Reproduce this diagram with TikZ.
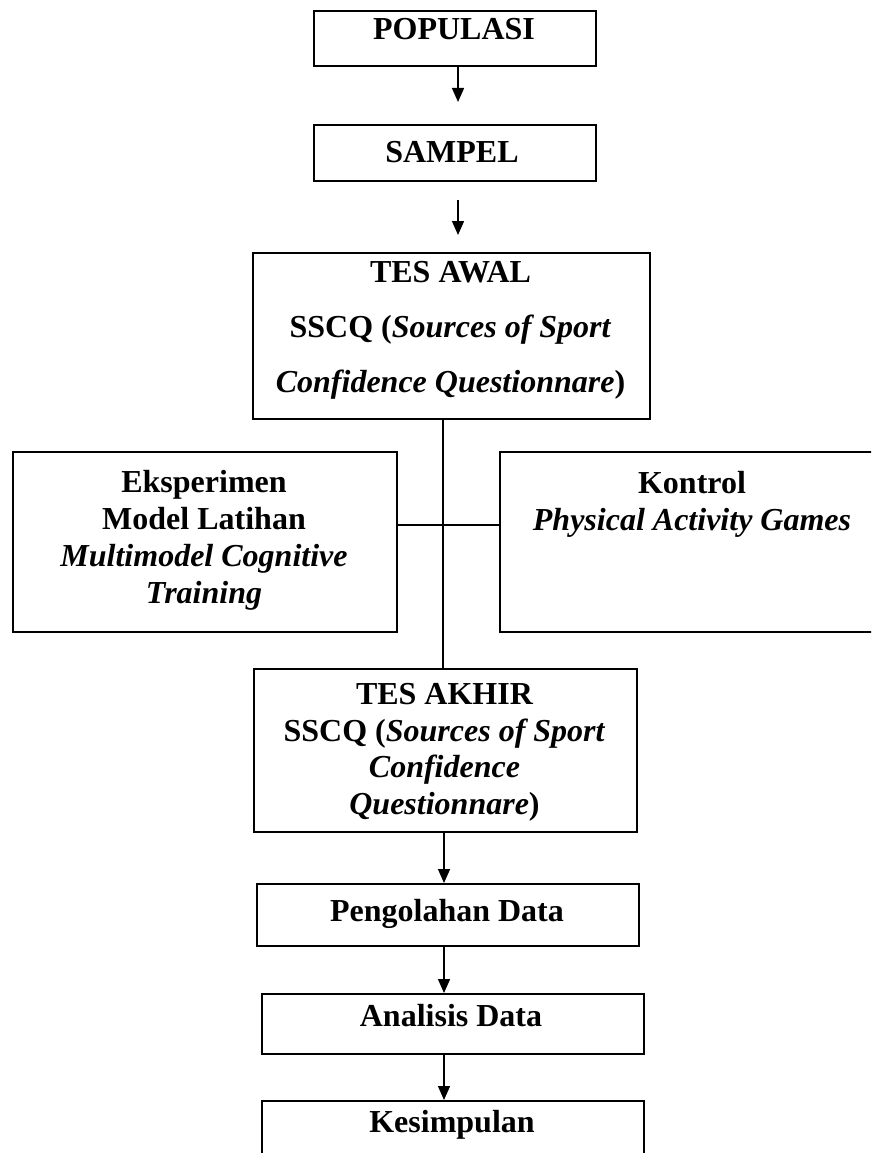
\documentclass[tikz,border=0pt]{standalone}
\usepackage{fontspec}
\setmainfont{Liberation Serif}
\usetikzlibrary{arrows.meta,calc}
\begin{document}
\begin{tikzpicture}[x=1pt,y=-1pt,
  box/.style={draw, line width=2pt, rectangle, inner sep=0pt, anchor=north west},
  txt/.style={font=\fontsize{32}{37}\selectfont\bfseries, align=center, anchor=base, inner sep=0pt},
  link/.style={line width=1.4pt},
  flow/.style={line width=1.4pt, -{Triangle[length=14pt,width=12pt]}}]
\useasboundingbox (0,0) rectangle (871,1153);
\clip (0,0) rectangle (871,1153);
% boxes
\node[box, minimum width=282pt, minimum height=55pt] (pop) at (313,10) {};
\node[box, minimum width=282pt, minimum height=56pt] (samp) at (313,124) {};
\node[box, minimum width=397pt, minimum height=166pt] (awal) at (252,252) {};
\node[box, minimum width=384pt, minimum height=180pt] (eks) at (12,451) {};
\node[box, minimum width=390pt, minimum height=180pt] (kon) at (499,451) {};
\node[box, minimum width=383pt, minimum height=163pt] (akhir) at (253,668) {};
\node[box, minimum width=382pt, minimum height=62pt] (peng) at (256,883) {};
\node[box, minimum width=382pt, minimum height=60pt] (anal) at (261,993) {};
\node[box, minimum width=382pt, minimum height=80pt] (kes) at (261,1100) {};
% texts (anchor = baseline of the last line)
\node[txt] (popt) at (454,40) {POPULASI};
\node[txt] (sampt) at (452,162) {SAMPEL};
\node[txt, font=\fontsize{32}{55}\selectfont\bfseries] (awalt) at (450.5,392)
  {TES AWAL\\SSCQ (\textit{Sources of Sport}\\\textit{Confidence Questionnare})};
\node[txt] (ekst) at (204,603)
  {Eksperimen\\Model Latihan\\\textit{Multimodel Cognitive}\\\textit{Training}};
\node[txt] (kont) at (692,530) {Kontrol\\\textit{Physical Activity Games}};
\node[txt, font=\fontsize{32}{36.5}\selectfont\bfseries] (akhirt) at (444.5,814)
  {TES AKHIR\\SSCQ (\textit{Sources of Sport}\\\textit{Confidence}\\\textit{Questionnare})};
\node[txt] (pengt) at (447,921) {Pengolahan Data};
\node[txt] (analt) at (451,1026) {Analisis Data};
\node[txt] (kest) at (452,1132) {Kesimpulan};
% helper coordinates
\coordinate (ax) at (458,0);
\coordinate (vx) at (443,0);
\coordinate (bx) at (444,0);
\coordinate (hy) at (0,525);
% connectors
\draw[flow] (pop.south -| ax) -- ($(samp.north -| ax)+(0,-22)$);
\draw[flow] ($(samp.south -| ax)+(0,18)$) -- ($(awal.north -| ax)+(0,-17)$);
\draw[link] (awal.south -| vx) -- (akhir.north -| vx);
\draw[link] (eks.east |- hy) -- (kon.west |- hy);
\draw[flow] (akhir.south -| bx) -- (peng.north -| bx);
\draw[flow] (peng.south -| bx) -- (anal.north -| bx);
\draw[flow] (anal.south -| bx) -- (kes.north -| bx);
\end{tikzpicture}
\end{document}
